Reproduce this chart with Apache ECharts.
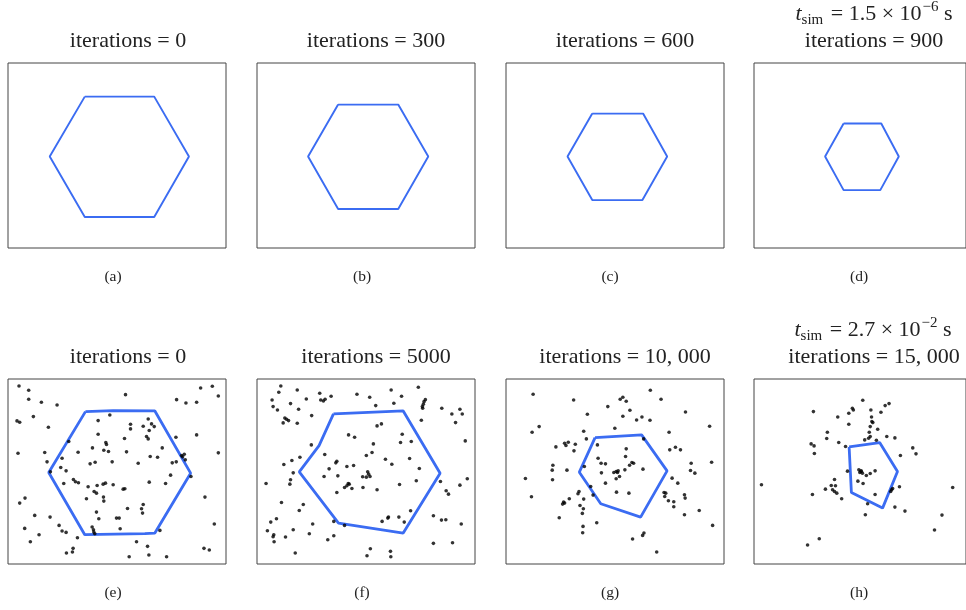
<!DOCTYPE html>
<html><head><meta charset="utf-8">
<script src="https://cdn.jsdelivr.net/npm/echarts@6/dist/echarts.min.js"></script>
<style>html,body{margin:0;padding:0;background:#fff}#c{width:966px;height:610px}</style>
</head><body><div id="c"></div>
<script>
// Panel titles & captions
const titles = ['iterations = 0','iterations = 300','iterations = 600','iterations = 900',
                'iterations = 0','iterations = 5000','iterations = 10, 000','iterations = 15, 000'];
const captions = ['(a)','(b)','(c)','(d)','(e)','(f)','(g)','(h)'];
const timeLabels = { d: ['1.5', '−6'], h: ['2.7', '−2'] };

// Field extents of each panel (x range, y range) in the same units as the shapes below
const fieldX = [[25,678],[770,1423],[77,729],[823,1476],[25,678],[22,672],[47,698],[42,695]];
const fieldY = [[189,745],[189,745],[189,745],[189,745],[237,793],[237,793],[237,793],[237,793]];

// Boundary polygons (closed)
const hexA = [[255,290],[463,290],[567,470],[463,652],[255,652],[150,470],[255,290]];
const hexB = [[1013,314],[1193,314],[1283,470],[1193,628],[1013,628],[923,470],[1013,314]];
const hexC = [[335,341],[487,341],[559,470],[485,601],[335,601],[261,470],[335,341]];
const hexD = [[1099,371],[1215,371],[1269,470],[1212,571],[1099,571],[1042,470],[1099,371]];
const hexE = [[257,335],[340,332],[465,333],[572,520],[465,700],[435,702],[255,705],[147,518],[257,335]];
const hexF = [[250,342],[458,333],[568,520],[458,700],[265,670],[148,516],[207,437],[250,342]];
const hexG = [[313,413],[452,405],[528,513],[449,652],[330,612],[266,517],[313,413]];
const hexH = [[335,441],[429,428],[484,515],[438,625],[342,578],[335,441]];

// Particles
const dotsE = [[87,271],[87,298],[58,258],[125,307],[172,315],[377,284],[602,264],[637,259],[655,288],[530,299],[558,309],[590,307],
[52,363],[60,367],[101,350],[146,382],[330,345],[295,362],[392,373],[392,387],[430,379],[445,357],[455,372],[463,380],[448,392],
[295,403],[374,416],[440,410],[445,417],[528,412],[590,405],[207,425],[318,428],[320,434],[278,444],[312,451],[326,455],[380,456],[235,457],[487,444],
[55,460],[135,458],[451,470],[473,472],[545,467],[553,463],[548,471],[556,480],[529,486],[517,489],[655,459],
[142,486],[187,475],[271,492],[286,487],[337,486],[415,490],[183,503],[199,513],[152,516],[512,526],[573,530],
[221,539],[227,546],[236,549],[192,551],[448,547],[497,551],[265,561],[292,557],[310,553],[317,550],[340,555],[370,568],[375,567],
[283,575],[290,580],[76,595],[60,610],[260,597],[311,592],[312,604],[615,592],[430,614],[425,627],[383,626],
[290,637],[105,647],[151,652],[297,657],[350,655],[358,655],[428,640],[178,677],[643,673],[75,686],[187,694],[199,698],[277,682],[281,690],[282,697],[285,702],[361,687],[480,692],[118,705],[233,714],
[92,726],[410,726],[220,746],[218,757],[200,760],[443,740],[447,766],[612,746],[628,751],[388,771],[500,771]];
const dotsF = [[93,258],[87,277],[142,270],[209,280],[243,289],[320,283],[358,292],[422,270],[453,289],[503,262],
[67,300],[70,320],[83,330],[122,311],[146,328],[169,297],[212,300],[220,303],[225,298],[376,317],[430,310],
[515,320],[518,313],[520,305],[524,299],[516,325],[573,325],[627,328],[634,342],[603,342],[512,361],[614,368],
[105,354],[100,369],[110,358],[116,362],[142,370],[185,347],[380,378],[393,372],[295,405],[313,412],[455,403],[450,428],[482,425],[643,423],
[184,435],[369,432],[224,464],[348,467],[365,458],[150,472],[126,482],[102,494],[260,484],[257,489],[405,478],[477,476],[424,493],
[290,500],[310,497],[237,507],[506,506],[352,516],[355,523],[130,519],[222,530],[263,528],[337,531],[348,532],[359,530],
[122,540],[120,553],[49,551],[294,551],[297,553],[290,558],[283,563],[305,566],[338,563],[380,570],[447,554],[497,543],[569,545],[627,556],[649,537],
[260,578],[586,573],[593,583],[95,608],[160,614],[148,632],[480,633],[548,648],[572,661],[585,660],[631,673],
[80,657],[63,667],[414,652],[412,655],[445,652],[395,665],[461,667],[251,665],[283,677],[188,673],
[53,693],[130,690],[72,705],[70,711],[73,726],[107,712],[178,702],[233,720],[251,708],
[360,747],[350,768],[420,755],[421,771],[548,731],[605,729],[136,760]];
const dotsG = [[128,283],[249,300],[478,271],[388,298],[396,292],[406,304],[510,298],[351,320],[417,331],[290,343],[396,349],[437,360],[453,351],[477,361],[583,336],[146,380],[125,397],[279,394],[372,385],[534,397],[655,379],
[287,417],[320,435],[458,417],[222,430],[233,427],[226,437],[254,433],[196,441],[250,453],[406,447],[536,450],[553,442],[568,450],
[322,475],[404,470],[331,490],[344,492],[423,488],[428,490],[416,496],[600,490],[661,487],
[187,496],[185,511],[229,511],[281,500],[456,508],[402,510],[598,512],[611,520],
[376,515],[382,513],[380,518],[369,518],[332,519],[386,530],[376,537],[105,536],[186,540],[543,535],[560,550],[344,550],
[300,560],[265,575],[262,582],[307,586],[377,577],[414,580],[519,578],[524,580],[521,590],[532,603],[548,606],[580,585],[582,595],
[123,591],[236,597],[279,598],[219,607],[216,613],[222,610],[268,617],[278,627],[548,621],[624,632],[580,645],[275,641],[206,654],[318,669],[664,677],
[277,680],[276,699],[459,700],[455,707],[425,718],[497,757]];
const dotsH = [[377,301],[458,311],[446,317],[225,335],[345,325],[348,330],[334,340],[300,351],[402,330],[433,337],[404,351],[405,365],[334,373],[408,368],[400,380],[423,388],
[268,397],[266,416],[397,397],[400,410],[395,415],[383,420],[419,421],[451,410],[476,414],[303,428],[218,432],[227,438],[228,461],[324,440],[531,444],[541,462],[493,467],
[330,514],[365,510],[372,513],[368,518],[376,520],[372,515],[388,527],[400,521],[415,513],[362,544],[378,551],
[290,539],[280,557],[293,558],[262,568],[284,570],[290,575],[297,580],[312,597],[222,584],[415,584],[466,570],[469,566],[463,575],[490,561],[654,563],
[392,612],[476,622],[507,634],[385,645],[621,646],[598,691],[243,717],[207,736],[65,555]];

const hexes = [hexA,hexB,hexC,hexD,hexE,hexF,hexG,hexH];
const dots = [null,null,null,null,dotsE,dotsF,dotsG,dotsH];

// layout
const gridLeft = [8,257,506,754];
const gridTop = [63,379];
const gridW = 218, gridH = 185;
const titleX = [128,376,625,874];
const captionX = [113,362,610,859];

const chart = echarts.init(document.getElementById('c'), null, {renderer:'canvas'});
const grid=[], xAxis=[], yAxis=[], series=[], graphic=[];
const blue = '#3b6cf2';
const serif = '"Liberation Serif","DejaVu Serif",serif';
for (let i=0;i<8;i++){
  const r = Math.floor(i/4), c = i%4;
  grid.push({left:gridLeft[c], top:gridTop[r], width:gridW, height:gridH, show:true, borderColor:'#444', borderWidth:1, backgroundColor:'#fff'});
  xAxis.push({type:'value', gridIndex:i, min:fieldX[i][0], max:fieldX[i][1], show:false});
  yAxis.push({type:'value', gridIndex:i, min:fieldY[i][0], max:fieldY[i][1], inverse:true, show:false});
  if (dots[i]) series.push({type:'scatter', xAxisIndex:i, yAxisIndex:i, data:dots[i], symbolSize:3.6, itemStyle:{color:'#000'}, silent:true, z:3});
  series.push({type:'line', xAxisIndex:i, yAxisIndex:i, data:hexes[i], showSymbol:false, symbol:'none', silent:true,
    lineStyle:{color:blue, width: r===0?1.9:2.8}, z:2});
  const ty = r===0 ? 41 : 357;
  graphic.push({type:'text', x:titleX[c], y:ty, style:{text:titles[i], font:'22px '+serif, fill:'#222', align:'center', verticalAlign:'middle'}});
  graphic.push({type:'text', x:captionX[c], y: r===0?277:593, style:{text:captions[i], font:'15.5px '+serif, fill:'#222', align:'center', verticalAlign:'middle'}});
}
function timeText(x,y,vals){
  return {type:'text', x:x, y:y, style:{
    text:'{i|t}{sub|sim}{n| = '+vals[0]+' × 10}{sup|'+vals[1]+'}{n| s}',
    align:'center', verticalAlign:'middle', fill:'#222',
    rich:{
      i:{fontFamily:serif, fontSize:22, fontStyle:'italic', fill:'#222', lineHeight:28, verticalAlign:'middle'},
      n:{fontFamily:serif, fontSize:22, fill:'#222', lineHeight:28, verticalAlign:'middle'},
      sub:{fontFamily:serif, fontSize:15, fill:'#222', lineHeight:28, verticalAlign:'bottom', padding:[0,2,0,0]},
      sup:{fontFamily:serif, fontSize:15, fill:'#222', lineHeight:28, verticalAlign:'top', padding:[0,0,0,1]}
    }}};
}
graphic.push(timeText(874,14,timeLabels.d));
graphic.push(timeText(873,330,timeLabels.h));

chart.setOption({animation:false, backgroundColor:'#fff', grid, xAxis, yAxis, series, graphic});
</script></body></html>
